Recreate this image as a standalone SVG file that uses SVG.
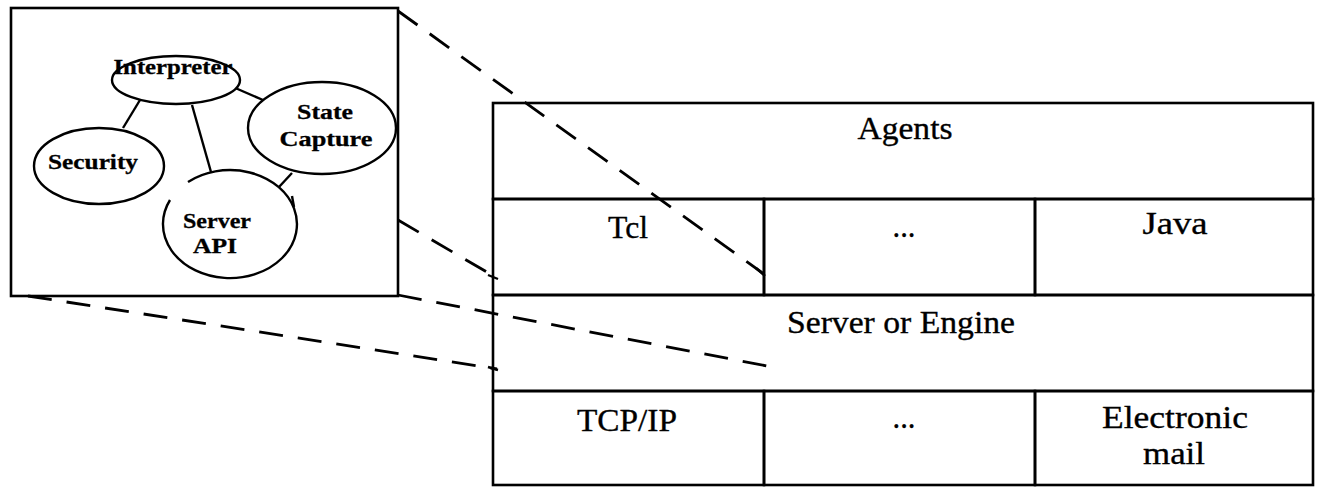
<svg xmlns="http://www.w3.org/2000/svg" width="1318" height="487" viewBox="0 0 1318 487">
  <style>
    .frame { fill: none; stroke: #000; stroke-width: 2.6; }
    .node { fill: #fff; stroke: #000; stroke-width: 2.4; }
    .edge { fill: none; stroke: #000; stroke-width: 2.4; }
    .dash { fill: none; stroke: #000; stroke-width: 2.8; stroke-dasharray: 24 15; }
    .tick { fill: none; stroke: #000; stroke-width: 2.4; }
    .small { font-family: "Liberation Serif", "Times New Roman", serif; font-weight: bold; font-size: 21.5px; fill: #000; stroke: #000; stroke-width: 0.3; text-anchor: middle; }
    .big { font-family: "Liberation Serif", "Times New Roman", serif; font-size: 32.5px; fill: #000; stroke: #000; stroke-width: 0.35; text-anchor: middle; }
  </style>

  <rect width="1318" height="487" fill="#fff"/>

  <!-- zoom-out connectors: dashed projection lines -->
  <g id="connectors">
    <path class="dash" d="M398,11 L764,274"/>
    <path class="dash" d="M398,220 L497,278"/>
    <path class="dash" d="M398,295 L767,366"/>
    <path class="dash" d="M28,296 L497,369"/>
    <path class="tick" d="M756,268 L765,276"/>
    <path class="tick" d="M488,275 L498,279"/>
    <path class="tick" d="M488,367 L498,370"/>
    <!-- links inside the detail box -->
    <path class="edge" d="M140,100 L123,128"/>
    <path class="edge" d="M192,105 L211,172"/>
    <path class="edge" d="M233,87 L263,100"/>
    <path class="edge" d="M292,173 L279,187"/>
  </g>

  <!-- detail box -->
  <g id="detail-box">
    <rect class="frame" x="11" y="8" width="387" height="288"/>
  </g>

  <g id="node-interpreter">
    <ellipse class="node" cx="176" cy="80" rx="64" ry="24"/>
    <text class="small" x="173" y="74" textLength="119" lengthAdjust="spacingAndGlyphs">Interpreter</text>
  </g>

  <g id="node-state-capture">
    <ellipse class="node" cx="322" cy="128" rx="74" ry="46"/>
    <text class="small" x="325" y="119" textLength="56" lengthAdjust="spacingAndGlyphs">State</text>
    <text class="small" x="326" y="146" textLength="93" lengthAdjust="spacingAndGlyphs">Capture</text>
  </g>

  <g id="node-security">
    <ellipse class="node" cx="99" cy="166" rx="65" ry="38"/>
    <text class="small" x="93" y="169" textLength="90" lengthAdjust="spacingAndGlyphs">Security</text>
  </g>

  <g id="node-server-api">
    <path class="node" d="M188,182 A67,54 0 1 1 170,200"/>
    <path class="tick" d="M292,196 L294,207"/>
    <text class="small" x="217" y="228" textLength="68" lengthAdjust="spacingAndGlyphs">Server</text>
    <text class="small" x="215" y="253" textLength="44" lengthAdjust="spacingAndGlyphs">API</text>
  </g>

  <!-- layered architecture -->
  <g id="layer-agents">
    <rect class="frame" x="493" y="103" width="820" height="96"/>
    <text class="big" x="905" y="139" textLength="95" lengthAdjust="spacingAndGlyphs">Agents</text>
  </g>

  <g id="cell-tcl">
    <rect class="frame" x="493" y="199" width="271" height="96"/>
    <text class="big" x="628" y="238" textLength="40" lengthAdjust="spacingAndGlyphs">Tcl</text>
  </g>

  <g id="cell-lang-more">
    <rect class="frame" x="764" y="199" width="271" height="96"/>
    <text class="big" x="904" y="237" textLength="23" lengthAdjust="spacingAndGlyphs">...</text>
  </g>

  <g id="cell-java">
    <rect class="frame" x="1035" y="199" width="278" height="96"/>
    <text class="big" x="1175" y="234" textLength="65" lengthAdjust="spacingAndGlyphs">Java</text>
  </g>

  <g id="layer-server">
    <rect class="frame" x="493" y="295" width="820" height="96"/>
    <text class="big" x="901" y="333" textLength="228" lengthAdjust="spacingAndGlyphs">Server or Engine</text>
  </g>

  <g id="cell-tcpip">
    <rect class="frame" x="493" y="391" width="271" height="94"/>
    <text class="big" x="627" y="431" textLength="100" lengthAdjust="spacingAndGlyphs">TCP/IP</text>
  </g>

  <g id="cell-transport-more">
    <rect class="frame" x="764" y="391" width="271" height="94"/>
    <text class="big" x="904" y="428" textLength="23" lengthAdjust="spacingAndGlyphs">...</text>
  </g>

  <g id="cell-email">
    <rect class="frame" x="1035" y="391" width="278" height="94"/>
    <text class="big" x="1175" y="428" textLength="146" lengthAdjust="spacingAndGlyphs">Electronic</text>
    <text class="big" x="1174" y="464" textLength="62" lengthAdjust="spacingAndGlyphs">mail</text>
  </g>
</svg>
